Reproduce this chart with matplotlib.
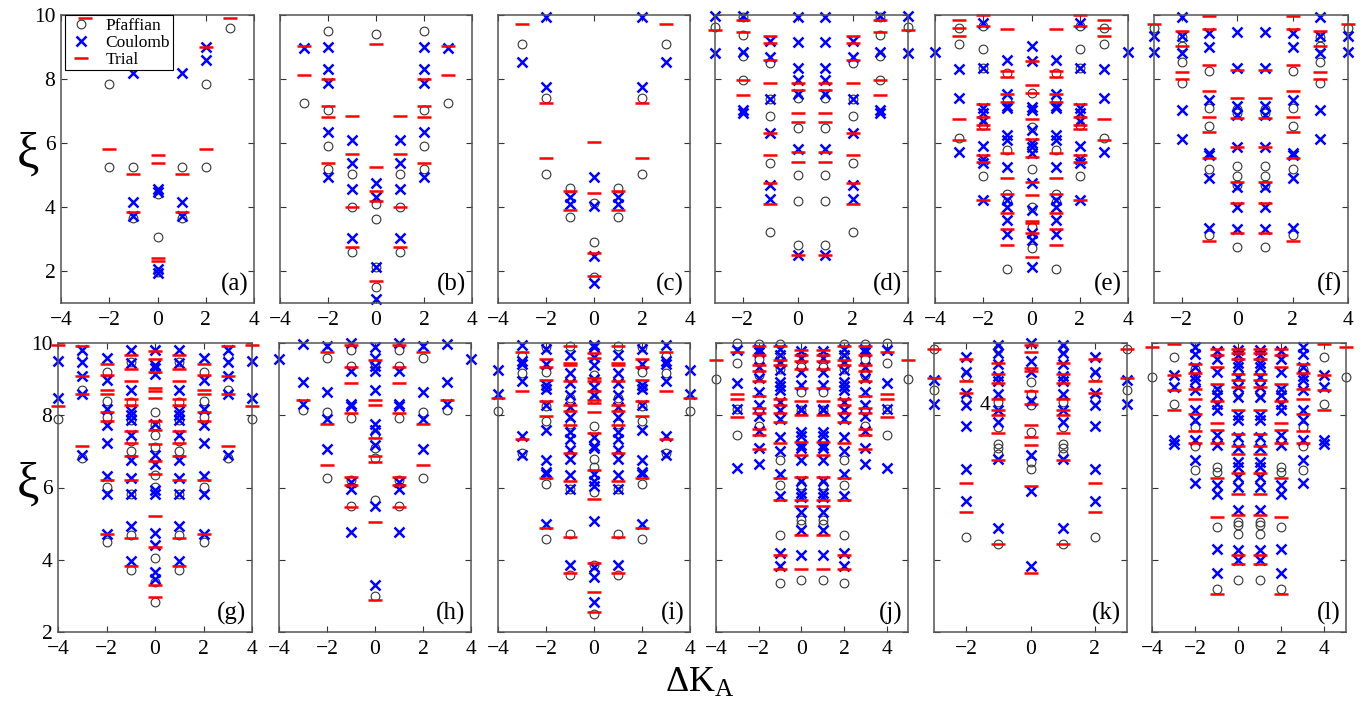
import matplotlib
matplotlib.use("Agg")
import matplotlib.pyplot as plt

plt.rcParams['font.family'] = ['Liberation Serif', 'DejaVu Serif']
plt.rcParams['mathtext.fontset'] = 'custom'
plt.rcParams['mathtext.rm'] = 'Liberation Serif'
plt.rcParams['mathtext.it'] = 'Liberation Serif:italic'

# ---- data: {Delta K_A : [xi values]} for each panel and series ----
# (a)
a_pf = {-3: [9.58], -2: [7.84, 5.26], -1: [5.24, 3.65], 0: [4.41, 3.05, 1.98],
        1: [5.24, 3.65], 2: [7.84, 5.26], 3: [9.58]}
a_co = {-2: [9.01, 8.6], -1: [8.18, 4.17, 3.72], 0: [4.56, 4.48, 2.05, 1.95],
        1: [8.18, 4.17, 3.72], 2: [9.01, 8.6]}
a_tr = {-2: [9.01, 5.81], -1: [5.02, 3.85], 0: [5.63, 5.36, 2.40, 2.32],
        1: [5.02, 3.85], 2: [9.01, 5.81], 3: [9.9]}
a_tr_top = {-3: [9.9]}

# (b)
b_pf = {-3: [7.24], -2: [9.5, 7.03, 5.92, 5.19], -1: [5.02, 3.99, 2.58],
        0: [9.40, 4.09, 3.63, 2.14, 1.49],
        1: [5.02, 3.99, 2.58], 2: [9.5, 7.03, 5.92, 5.19], 3: [7.24]}
b_co = {-3: [8.98], -2: [9.01, 8.30, 7.86, 6.33, 4.93], -1: [6.09, 5.36, 4.56, 3.04],
        0: [4.74, 4.32, 2.14, 1.13],
        1: [6.09, 5.36, 4.56, 3.04], 2: [9.01, 8.30, 7.86, 6.33, 4.93], 3: [8.98]}
b_tr = {-3: [9.04, 8.11], -2: [8.0, 7.17, 6.82, 5.39], -1: [6.85, 5.65, 3.99, 2.76],
        0: [9.09, 5.24, 4.5, 4.2, 1.70],
        1: [6.85, 5.65, 3.99, 2.76], 2: [8.0, 7.17, 6.82, 5.39], 3: [9.04, 8.11]}

# (c)
c_pf = {-3: [9.10], -2: [7.40, 5.03], -1: [4.6, 3.68], 0: [4.11, 2.92, 1.82],
        1: [4.6, 3.68], 2: [7.40, 5.03], 3: [9.10]}
c_co = {-3: [8.53], -2: [9.93, 7.76], -1: [4.32, 4.09], 0: [4.93, 4.03, 2.47, 1.64],
        1: [4.32, 4.09], 2: [9.93, 7.76], 3: [8.53]}
c_tr = {-3: [9.71], -2: [7.24, 5.54], -1: [4.5, 3.91], 0: [6.02, 4.45, 2.55, 1.84],
        1: [4.5, 3.91], 2: [7.24, 5.54], 3: [9.71]}

# (d)
d_pf = {-3: [9.64], -2: [9.95, 9.38, 8.73, 7.97], -1: [8.51, 7.38, 6.84, 5.36, 3.21],
        0: [7.40, 6.46, 5.0, 4.2, 2.81], 1: [7.40, 6.46, 5.0, 4.2, 2.81],
        2: [8.51, 7.38, 6.84, 5.36, 3.21], 3: [9.95, 9.38, 8.73, 7.97], 4: [9.64]}
d_co = {-3: [9.98, 8.80], -2: [9.98, 8.85, 7.03, 6.93],
        -1: [9.20, 8.68, 7.38, 6.32, 4.69, 4.24],
        0: [9.95, 9.17, 8.35, 7.97, 7.52, 5.81, 2.5],
        1: [9.95, 9.17, 8.35, 7.97, 7.52, 5.81, 2.5],
        2: [9.20, 8.68, 7.38, 6.32, 4.69, 4.24],
        3: [9.98, 8.85, 7.03, 6.93], 4: [9.98, 8.80]}
d_tr = {-3: [9.53], -2: [9.84, 9.46, 7.97, 7.51],
        -1: [9.35, 9.11, 8.59, 7.89, 6.32, 5.63, 4.74, 4.09],
        0: [7.86, 7.66, 6.95, 6.67, 5.73, 5.42, 2.5],
        1: [7.86, 7.66, 6.95, 6.67, 5.73, 5.42, 2.5],
        2: [9.35, 9.11, 8.59, 7.89, 6.32, 5.63, 4.74, 4.09],
        3: [9.84, 9.46, 7.97, 7.51], 4: [9.53]}

# (e)
e_pf = {-3: [9.60, 9.09, 6.15], -2: [9.66, 8.94, 8.33, 6.56, 4.97],
        -1: [8.18, 7.38, 5.78, 4.41, 4.17, 2.05],
        0: [7.55, 6.51, 5.18, 4.01, 3.39, 2.71],
        1: [8.18, 7.38, 5.78, 4.41, 4.17, 2.05],
        2: [9.66, 8.94, 8.33, 6.56, 4.97], 3: [9.60, 9.09, 6.15]}
e_co = {-4: [8.83], -3: [8.30, 7.42, 5.72],
        -2: [9.74, 8.33, 7.08, 6.95, 6.70, 5.92, 5.5, 5.36, 4.22],
        -1: [8.59, 7.52, 7.16, 7.08, 6.25, 6.09, 5.26, 4.22, 4.01, 3.59, 3.16],
        0: [9.04, 8.56, 7.11, 7.03, 6.41, 5.99, 5.89, 5.70, 4.76, 3.91, 3.18, 2.97, 2.14],
        1: [8.59, 7.52, 7.16, 7.08, 6.25, 6.09, 5.26, 4.22, 4.01, 3.59, 3.16],
        2: [9.74, 8.33, 7.08, 6.95, 6.70, 5.92, 5.5, 5.36, 4.22],
        3: [8.30, 7.42, 5.72], 4: [8.83]}
e_tr = {-3: [9.84, 9.58, 9.34, 6.76, 6.08],
        -2: [10.0, 9.67, 7.23, 6.80, 6.56, 6.43, 5.63, 5.42, 4.22],
        -1: [9.56, 8.25, 8.07, 7.52, 7.27, 5.68, 4.90, 4.41, 3.80, 3.30, 2.81],
        0: [8.57, 7.81, 7.57, 6.74, 6.13, 5.57, 4.77, 4.38, 3.56, 3.49, 3.20, 2.45],
        1: [9.56, 8.25, 8.07, 7.52, 7.27, 5.68, 4.90, 4.41, 3.80, 3.30, 2.81],
        2: [10.0, 9.67, 7.23, 6.80, 6.56, 6.43, 5.63, 5.42, 4.22],
        3: [9.84, 9.58, 9.34, 6.76, 6.08]}

# (f)
f_pf = {-3: [9.58], -2: [9.30, 9.04, 8.54, 7.86], -1: [8.26, 7.08, 6.54, 5.19, 3.13],
        0: [7.05, 6.93, 5.29, 4.97, 4.69, 2.74], 1: [7.05, 6.93, 5.29, 4.97, 4.69, 2.74],
        2: [8.26, 7.08, 6.54, 5.19, 3.13], 3: [9.30, 9.04, 8.54, 7.86], 4: [9.58]}
f_co = {-3: [9.34, 8.85], -2: [9.93, 9.34, 8.80, 7.03, 6.13],
        -1: [9.43, 8.99, 7.34, 5.68, 5.63, 4.90, 3.33],
        0: [9.46, 8.33, 7.16, 6.88, 5.89, 4.64, 4.01, 3.30],
        1: [9.46, 8.33, 7.16, 6.88, 5.89, 4.64, 4.01, 3.30],
        2: [9.43, 8.99, 7.34, 5.68, 5.63, 4.90, 3.33],
        3: [9.93, 9.34, 8.80, 7.03, 6.13], 4: [9.34, 8.85]}
f_tr = {-3: [9.71], -2: [9.5, 9.04, 8.23, 8.0],
        -1: [9.97, 9.56, 8.44, 7.61, 6.82, 6.35, 5.52, 2.95],
        0: [8.28, 7.42, 6.79, 5.89, 4.79, 4.14, 3.20],
        1: [8.28, 7.42, 6.79, 5.89, 4.79, 4.14, 3.20],
        2: [9.97, 9.56, 8.44, 7.61, 6.82, 6.35, 5.52, 2.95],
        3: [9.5, 9.04, 8.23, 8.0], 4: [9.71]}

# (g)
g_pf = {-4: [7.91], -3: [9.63, 8.71, 6.82], -2: [9.20, 8.39, 7.95, 6.01, 4.49],
        -1: [9.47, 8.37, 7.88, 7.28, 7.01, 5.83, 4.68, 3.71],
        0: [8.09, 7.72, 7.44, 7.12, 6.34, 6.01, 4.06, 3.39, 2.83],
        1: [9.47, 8.37, 7.88, 7.28, 7.01, 5.83, 4.68, 3.71],
        2: [9.20, 8.39, 7.95, 6.01, 4.49], 3: [9.63, 8.71, 6.82], 4: [7.91]}
g_co = {-4: [9.50, 8.49], -3: [9.80, 9.47, 9.08, 8.58, 6.89],
        -2: [9.59, 8.97, 8.18, 7.74, 7.24, 6.31, 5.83, 4.72],
        -1: [9.80, 9.45, 8.71, 8.11, 8.0, 7.86, 7.44, 6.75, 6.27, 5.81, 4.94, 3.97],
        0: [9.80, 9.38, 9.32, 9.15, 7.75, 6.89, 6.64, 5.92, 5.83, 4.75, 4.40, 3.66, 3.48],
        1: [9.80, 9.45, 8.71, 8.11, 8.0, 7.86, 7.44, 6.75, 6.27, 5.81, 4.94, 3.97],
        2: [9.59, 8.97, 8.18, 7.74, 7.24, 6.31, 5.83, 4.72],
        3: [9.80, 9.47, 9.08, 8.58, 6.89], 4: [9.50, 8.49]}
g_tr = {-4: [9.95, 8.25], -3: [9.91, 9.08, 8.58, 7.15],
        -2: [9.43, 9.12, 8.69, 8.60, 8.09, 7.83, 6.20, 4.70],
        -1: [9.66, 9.29, 8.94, 8.46, 8.29, 7.56, 7.23, 6.86, 6.22, 4.61, 3.82],
        0: [9.78, 9.57, 9.20, 8.75, 8.66, 8.48, 7.83, 7.60, 7.21, 6.73, 6.38, 5.21, 4.35, 3.31, 2.97],
        1: [9.66, 9.29, 8.94, 8.46, 8.29, 7.56, 7.23, 6.86, 6.22, 4.61, 3.82],
        2: [9.43, 9.12, 8.69, 8.60, 8.09, 7.83, 6.20, 4.70],
        3: [9.91, 9.08, 8.58, 7.15], 4: [9.95, 8.25]}

# (h)
h_pf = {-3: [8.14], -2: [9.58, 8.09, 6.26], -1: [9.82, 9.35, 7.93, 6.20, 5.48],
        0: [9.45, 7.49, 7.09, 6.82, 5.65, 3.0],
        1: [9.82, 9.35, 7.93, 6.20, 5.48], 2: [9.58, 8.09, 6.26], 3: [8.14]}
h_co = {-4: [9.55], -3: [9.98, 8.92, 8.32], -2: [9.92, 8.63, 7.89, 7.06],
        -1: [10.0, 9.23, 8.32, 8.26, 6.15, 5.95, 4.77],
        0: [9.89, 9.59, 9.35, 9.22, 8.69, 7.75, 7.58, 7.17, 5.49, 3.29],
        1: [10.0, 9.23, 8.32, 8.26, 6.15, 5.95, 4.77],
        2: [9.92, 8.63, 7.89, 7.06], 3: [9.98, 8.92, 8.32], 4: [9.55]}
h_tr = {-3: [8.41], -2: [9.75, 7.77, 6.63], -1: [9.94, 9.34, 8.90, 8.06, 6.29, 6.06, 5.46],
        0: [9.52, 8.41, 8.29, 7.37, 6.86, 6.71, 5.05, 2.88],
        1: [9.94, 9.34, 8.90, 8.06, 6.29, 6.06, 5.46], 2: [9.75, 7.77, 6.63], 3: [8.41]}

# (i)
i_pf = {-4: [8.11], -3: [9.63, 9.18, 6.96], -2: [9.89, 9.20, 8.78, 8.26, 7.83, 6.09, 4.57],
        -1: [9.92, 8.48, 7.77, 5.95, 4.72, 3.57],
        0: [9.11, 8.44, 7.69, 6.80, 6.57, 5.88, 3.85, 2.49],
        1: [9.92, 8.48, 7.77, 5.95, 4.72, 3.57],
        2: [9.89, 9.20, 8.78, 8.26, 7.83, 6.09, 4.57], 3: [9.63, 9.18, 6.96], 4: [8.11]}
i_co = {-4: [9.24, 8.58], -3: [9.95, 9.50, 9.43, 8.94, 7.42, 6.89],
        -2: [9.84, 9.43, 8.83, 8.72, 8.29, 7.58, 6.77, 6.43, 6.37, 5.0],
        -1: [9.68, 9.17, 8.89, 8.55, 8.23, 7.95, 7.54, 7.35, 7.03, 6.80, 6.34, 5.95, 3.85],
        0: [9.95, 9.89, 9.61, 9.40, 8.99, 8.78, 8.55, 7.40, 7.14, 7.08, 6.37, 6.17, 6.04,
            5.06, 3.80, 3.51, 2.83],
        1: [9.68, 9.17, 8.89, 8.55, 8.23, 7.95, 7.54, 7.35, 7.03, 6.80, 6.34, 5.95, 3.85],
        2: [9.84, 9.43, 8.83, 8.72, 8.29, 7.58, 6.77, 6.43, 6.37, 5.0],
        3: [9.95, 9.50, 9.43, 8.94, 7.42, 6.89], 4: [9.24, 8.58]}
i_tr = {-4: [8.49], -3: [9.75, 8.67, 7.35], -2: [9.55, 9.34, 8.97, 8.39, 7.97, 6.25, 4.88],
        -1: [9.91, 9.45, 9.38, 8.95, 8.27, 8.12, 7.72, 6.96, 6.17, 4.63, 3.62],
        0: [9.72, 9.58, 9.04, 8.95, 8.67, 8.41, 8.34, 8.09, 7.52, 6.48, 5.67, 3.91, 3.11, 2.56],
        1: [9.91, 9.45, 9.38, 8.95, 8.27, 8.12, 7.72, 6.96, 6.17, 4.63, 3.62],
        2: [9.55, 9.34, 8.97, 8.39, 7.97, 6.25, 4.88], 3: [9.75, 8.67, 7.35], 4: [8.49]}

# (j)
j_pf = {-4: [8.99], -3: [10.0, 9.46, 8.18, 7.44], -2: [9.98, 9.55, 9.11, 7.69],
        -1: [9.98, 9.58, 9.29, 6.75, 6.06, 4.68, 3.37],
        0: [9.34, 8.64, 8.14, 6.06, 5.11, 5.0, 3.43],
        1: [9.34, 8.64, 8.14, 6.06, 5.11, 5.0, 3.43],
        2: [9.98, 9.58, 9.29, 6.75, 6.06, 4.68, 3.37],
        3: [9.98, 9.55, 9.11, 7.69], 4: [10.0, 9.46, 8.18, 7.44], 5: [8.99]}
j_co = {-3: [9.82, 8.90, 8.18, 6.54],
        -2: [9.84, 9.75, 9.34, 9.04, 8.64, 8.27, 7.98, 7.56, 7.08, 6.64],
        -1: [9.84, 9.66, 9.47, 9.24, 8.92, 8.81, 8.69, 8.37, 8.15, 7.89, 7.40, 7.0, 6.36,
             5.77, 4.20, 3.82],
        0: [9.77, 9.58, 9.20, 8.83, 8.18, 8.15, 7.54, 7.42, 7.17, 7.08, 6.75, 6.18, 5.86,
            5.74, 5.32, 4.82, 4.12],
        1: [9.77, 9.58, 9.20, 8.83, 8.18, 8.15, 7.54, 7.42, 7.17, 7.08, 6.75, 6.18, 5.86,
            5.74, 5.32, 4.82, 4.12],
        2: [9.84, 9.66, 9.47, 9.24, 8.92, 8.81, 8.69, 8.37, 8.15, 7.89, 7.40, 7.0, 6.36,
            5.77, 4.20, 3.82],
        3: [9.84, 9.75, 9.34, 9.04, 8.64, 8.27, 7.98, 7.56, 7.08, 6.64],
        4: [9.82, 8.90, 8.18, 6.54]}
j_tr = {-4: [9.52], -3: [9.75, 8.60, 8.44, 7.95],
        -2: [9.92, 9.68, 9.38, 9.23, 8.94, 8.52, 8.20, 8.06, 7.63, 7.44, 7.06],
        -1: [9.92, 9.54, 9.38, 8.44, 8.27, 8.07, 7.81, 7.24, 6.25, 5.65, 4.12, 3.75],
        0: [9.82, 9.68, 9.49, 9.27, 8.75, 8.39, 8.0, 7.26, 6.91, 6.29, 5.65, 5.48, 4.68, 3.75],
        1: [9.82, 9.68, 9.49, 9.27, 8.75, 8.39, 8.0, 7.26, 6.91, 6.29, 5.65, 5.48, 4.68, 3.75],
        2: [9.92, 9.54, 9.38, 8.44, 8.27, 8.07, 7.81, 7.24, 6.25, 5.65, 4.12, 3.75],
        3: [9.92, 9.68, 9.38, 9.23, 8.94, 8.52, 8.20, 8.06, 7.63, 7.44, 7.06],
        4: [9.75, 8.60, 8.44, 7.95], 5: [9.52]}

# (k)
k_pf = {-3: [9.84, 8.71], -2: [9.09, 8.41, 4.63],
        -1: [9.84, 8.37, 7.68, 7.20, 7.08, 6.94, 4.43],
        0: [8.92, 8.60, 8.27, 7.54, 6.71, 6.52],
        1: [9.84, 8.37, 7.68, 7.20, 7.08, 6.94, 4.43],
        2: [9.09, 8.41, 4.63], 3: [9.84, 8.71]}
k_co = {-3: [8.97, 8.32], -2: [9.61, 9.20, 8.62, 8.27, 7.69, 6.52, 5.63],
        -1: [9.94, 9.73, 9.41, 9.08, 8.95, 8.58, 8.14, 7.81, 6.80, 4.89],
        0: [10.0, 9.50, 9.20, 8.39, 6.89, 5.90, 3.83],
        1: [9.94, 9.73, 9.41, 9.08, 8.95, 8.58, 8.14, 7.81, 6.80, 4.89],
        2: [9.61, 9.20, 8.62, 8.27, 7.69, 6.52, 5.63], 3: [8.97, 8.32]}
k_tr = {-3: [9.84, 9.04], -2: [9.57, 8.95, 8.62, 6.13, 5.32],
        -1: [9.46, 9.15, 8.89, 8.46, 8.14, 8.0, 7.51, 6.77, 4.43],
        0: [9.94, 9.75, 9.31, 9.23, 8.66, 8.32, 7.72, 7.40, 7.17, 6.04, 3.63],
        1: [9.46, 9.15, 8.89, 8.46, 8.14, 8.0, 7.51, 6.77, 4.43],
        2: [9.57, 8.95, 8.62, 6.13, 5.32], 3: [9.84, 9.04]}

# (l)
l_pf = {-4: [9.06], -3: [9.61, 8.32], -2: [9.29, 7.67, 7.14, 6.48],
        -1: [8.66, 6.57, 6.43, 4.91, 3.20], 0: [8.62, 5.05, 4.95, 4.72, 3.43],
        1: [8.62, 5.05, 4.95, 4.72, 3.43], 2: [8.66, 6.57, 6.43, 4.91, 3.20],
        3: [9.29, 7.67, 7.14, 6.48], 4: [9.61, 8.32], 5: [9.06]}
l_co = {-3: [9.12, 8.78, 7.31, 7.21],
        -2: [9.89, 9.70, 9.34, 9.10, 8.97, 8.69, 8.14, 7.86, 7.32, 6.75, 6.13],
        -1: [9.78, 9.55, 9.20, 8.74, 8.55, 8.30, 8.14, 7.44, 7.17, 6.06, 5.81, 4.29, 3.62],
        0: [9.80, 9.66, 9.45, 9.34, 9.06, 8.78, 8.51, 8.0, 7.88, 7.40, 7.08, 6.71, 6.57,
            6.29, 6.01, 5.37, 4.28, 3.99],
        1: [9.80, 9.66, 9.45, 9.34, 9.06, 8.78, 8.51, 8.0, 7.88, 7.40, 7.08, 6.71, 6.57,
            6.29, 6.01, 5.37, 4.28, 3.99],
        2: [9.78, 9.55, 9.20, 8.74, 8.55, 8.30, 8.14, 7.44, 7.17, 6.06, 5.81, 4.29, 3.62],
        3: [9.89, 9.70, 9.34, 9.10, 8.97, 8.69, 8.14, 7.86, 7.32, 6.75, 6.13],
        4: [9.12, 8.78, 7.31, 7.21]}
l_tr = {-4: [9.89], -3: [9.96, 9.12, 8.69, 8.15],
        -2: [9.41, 9.17, 8.72, 8.46, 8.04, 7.56, 7.23],
        -1: [9.84, 9.66, 9.34, 8.87, 8.39, 7.79, 7.58, 7.24, 6.25, 5.18, 3.06],
        0: [9.84, 9.73, 9.57, 9.15, 8.97, 8.78, 8.14, 7.49, 7.14, 6.94, 6.40, 5.83, 5.23,
            4.12, 3.87],
        1: [9.84, 9.73, 9.57, 9.15, 8.97, 8.78, 8.14, 7.49, 7.14, 6.94, 6.40, 5.83, 5.23,
            4.12, 3.87],
        2: [9.84, 9.66, 9.34, 8.87, 8.39, 7.79, 7.58, 7.24, 6.25, 5.18, 3.06],
        3: [9.41, 9.17, 8.72, 8.46, 8.04, 7.56, 7.23],
        4: [9.96, 9.12, 8.69, 8.15], 5: [9.89]}

# panel label, data, x range, x ticks, axes box in pixels (left, top, right, bottom)
panels = [
    ("(a)", a_pf, a_co, a_tr, (-4, 4), [-4, -2, 0, 2, 4], (61, 15, 254, 303)),
    ("(b)", b_pf, b_co, b_tr, (-4, 4), [-4, -2, 0, 2, 4], (280, 15, 472, 303)),
    ("(c)", c_pf, c_co, c_tr, (-4, 4), [-4, -2, 0, 2, 4], (498, 15, 690, 303)),
    ("(d)", d_pf, d_co, d_tr, (-3, 4), [-2, 0, 2, 4], (715, 15, 908, 303)),
    ("(e)", e_pf, e_co, e_tr, (-4, 4), [-4, -2, 0, 2, 4], (935, 15, 1128, 303)),
    ("(f)", f_pf, f_co, f_tr, (-3, 4), [-2, 0, 2, 4], (1154, 15, 1348, 303)),
    ("(g)", g_pf, g_co, g_tr, (-4, 4), [-4, -2, 0, 2, 4], (58, 343, 252, 632)),
    ("(h)", h_pf, h_co, h_tr, (-4, 4), [-4, -2, 0, 2, 4], (279, 343, 471, 632)),
    ("(i)", i_pf, i_co, i_tr, (-4, 4), [-4, -2, 0, 2, 4], (498, 343, 690, 632)),
    ("(j)", j_pf, j_co, j_tr, (-4, 5), [-4, -2, 0, 2, 4], (716, 343, 908, 632)),
    ("(k)", k_pf, k_co, k_tr, (-3, 3), [-2, 0, 2], (934, 343, 1127, 632)),
    ("(l)", l_pf, l_co, l_tr, (-4, 5), [-4, -2, 0, 2, 4], (1152, 343, 1346, 632)),
]

W, H = 1370, 705
fig = plt.figure(figsize=(W / 100, H / 100), dpi=100)

pf_style = dict(ls="none", marker="o", mfc="none", mec="#333333", ms=6.3, mew=0.8, clip_on=False)
co_style = dict(ls="none", marker="x", color="#0000ff", ms=6.5, mew=1.8, clip_on=False)
tr_style = dict(ls="none", marker="_", color="#ff0000", ms=9.5, mew=1.8, clip_on=False)


def flat(d):
    xs = [x for x, ys in d.items() for _ in ys]
    ys = [y for x, ys in d.items() for y in ys]
    return xs, ys


axes = []
for n, (lab, pf, co, tr, xlim, xt, box) in enumerate(panels):
    l, t, r, b = box
    ax = fig.add_axes([l / W, 1 - b / H, (r - l) / W, (b - t) / H])
    ax.plot(*flat(pf), label="Pfaffian", **pf_style)
    ax.plot(*flat(co), label="Coulomb", **co_style)
    ax.plot(*flat(tr), label="Trial", **tr_style)
    ax.set_xlim(*xlim)
    ax.set_xticks(xt)
    ax.set_xticklabels([str(v).replace("-", "\u2212") for v in xt])
    if n < 6:
        ax.set_ylim(1, 10)
    else:
        ax.set_ylim(2, 10)
    ax.set_yticks([2, 4, 6, 8, 10])
    if n not in (0, 6):
        ax.set_yticklabels([])
    else:
        ax.set_yticklabels(["2", "4", "6", "8", "10"])
    ax.tick_params(direction="in", top=True, right=True, length=4, width=0.8,
                   labelsize=15.5, colors="#333333", labelcolor="black")
    ax.tick_params(axis="x", pad=6)
    ax.tick_params(axis="y", pad=4)
    for s in ax.spines.values():
        s.set_color("#555555")
        s.set_linewidth(1.1)
    ax.text(0.97, 0.025, lab, transform=ax.transAxes, ha="right", va="bottom", fontsize=18)
    axes.append(ax)

leg = axes[0].legend(loc="upper left", bbox_to_anchor=(0.02, 1.0), fontsize=12.5,
                     frameon=True, fancybox=False, edgecolor="black", framealpha=1,
                     borderpad=0.15, labelspacing=0.05, handlelength=1.6,
                     handletextpad=0.6, borderaxespad=0.0)
leg.get_frame().set_linewidth(0.8)
leg.set_zorder(5)
axes[0].plot(*flat(a_tr_top), zorder=6, **tr_style)

# stray tick label left inside panel (k)
axes[10].text(-1.41, 8.28, "4", ha="center", va="center", fontsize=15.5)

fig.text(28 / W, 1 - 155 / H, "\u03be", fontsize=36, ha="center", va="center")
fig.text(28 / W, 1 - 485 / H, "\u03be", fontsize=36, ha="center", va="center")
fig.text(700 / W, 1 - 683 / H, r"$\Delta\mathrm{K}_{\mathrm{A}}$", fontsize=26,
         ha="center", va="center")

fig.savefig("out.png", dpi=100)
